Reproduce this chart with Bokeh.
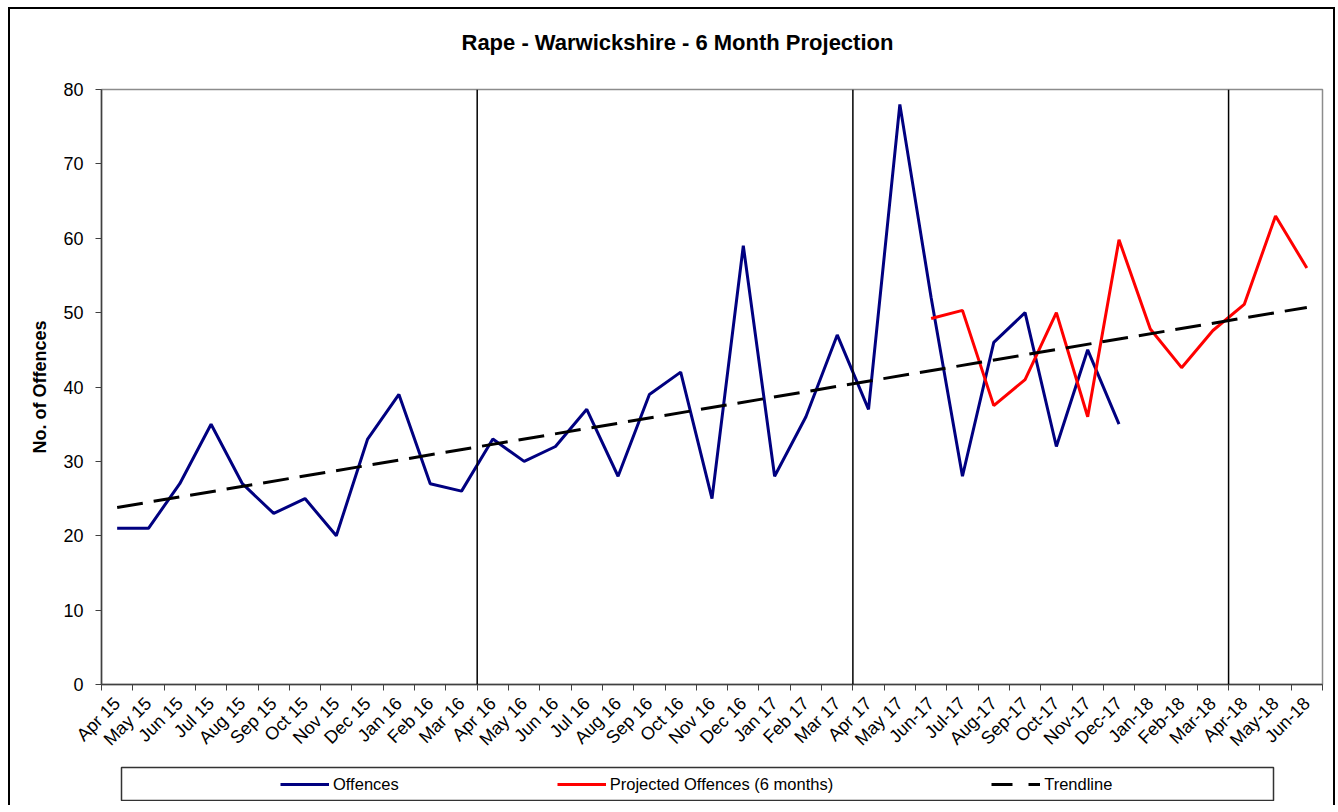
import numpy as np
from bokeh.plotting import figure
from bokeh.layouts import column
from bokeh.models import (Range1d, FixedTicker, SingleIntervalTicker, Legend,
                          LegendItem, Span, Label)
from bokeh.embed import file_html
from bokeh.resources import INLINE

# ---------------- data ----------------
months = ["Apr 15", "May 15", "Jun 15", "Jul 15", "Aug 15", "Sep 15", "Oct 15", "Nov 15",
          "Dec 15", "Jan 16", "Feb 16", "Mar 16", "Apr 16", "May 16", "Jun 16", "Jul 16",
          "Aug 16", "Sep 16", "Oct 16", "Nov 16", "Dec 16", "Jan 17", "Feb 17", "Mar 17",
          "Apr 17", "May 17", "Jun-17", "Jul-17", "Aug-17", "Sep-17", "Oct-17", "Nov-17",
          "Dec-17", "Jan-18", "Feb-18", "Mar-18", "Apr-18", "May-18", "Jun-18"]

offences = [21, 21, 27, 35, 27, 23, 25, 20, 33, 39, 27, 26,
            33, 30, 32, 37, 28, 39, 42, 25, 59, 28, 36, 47,
            37, 78, 52, 28, 46, 50, 32, 45, 35]

projected_months = ["Jun-17", "Jul-17", "Aug-17", "Sep-17", "Oct-17", "Nov-17", "Dec-17",
                    "Jan-18", "Feb-18", "Mar-18", "Apr-18", "May-18", "Jun-18"]
projected = [49.2, 50.3, 37.5, 41.0, 50.0, 36.0, 59.8, 47.8, 42.6, 47.6, 51.1, 63.0, 56.0]

trend_months = ["Apr 15", "Jun-18"]
trend_values = [23.8, 50.7]

year_starts = ["Apr 16", "Apr 17", "Apr-18"]

title_text = "Rape - Warwickshire - 6 Month Projection"
y_title = "No. of Offences"
legend_labels = ["Offences", "Projected Offences (6 months)", "Trendline"]

FONT = "Liberation Sans"
NAVY = "#000080"
RED = "#ff0000"

idx = {m: i for i, m in enumerate(months)}

# ---------------- title strip ----------------
tf = figure(width=1323, height=50, output_backend="svg", toolbar_location=None,
            x_range=Range1d(0, 1221), y_range=Range1d(0, 50),
            min_border_left=91, min_border_right=11, min_border_top=0, min_border_bottom=0)
tf.axis.visible = False
tf.grid.visible = False
tf.outline_line_color = None
tf.background_fill_color = "white"
tf.border_fill_color = "white"
tf.add_layout(Label(x=360, y=17, text=title_text, text_align="left",
                    text_baseline="middle", text_font=FONT, text_font_size="22px",
                    text_font_style="bold", text_color="black"))

# ---------------- main chart ----------------
p = figure(width=1323, height=701, output_backend="svg", toolbar_location=None,
           x_range=Range1d(-0.5, len(months) - 0.5), y_range=Range1d(0, 80),
           min_border_left=91, min_border_right=11, min_border_top=30, min_border_bottom=76)
p.xgrid.visible = False
p.ygrid.visible = False
p.outline_line_color = "#8c8c8c"
p.outline_line_width = 1.5
p.background_fill_color = "white"
p.border_fill_color = "white"

# x axis
xa = p.xaxis[0]
xa.ticker = FixedTicker(ticks=list(range(len(months))),
                        minor_ticks=[i - 0.5 for i in range(len(months) + 1)])
xa.major_label_overrides = {i: m for i, m in enumerate(months)}
xa.major_tick_out = 0
xa.major_tick_in = 0
xa.minor_tick_out = 6
xa.minor_tick_in = 0
xa.minor_tick_line_color = "#404040"
xa.axis_line_color = "#404040"
xa.axis_line_width = 1.5
xa.major_label_orientation = np.pi / 4
xa.major_label_standoff = 10
xa.major_label_text_font = FONT
xa.major_label_text_font_size = "18px"
xa.major_label_text_color = "black"

# y axis
ya = p.yaxis[0]
ya.ticker = SingleIntervalTicker(interval=10, num_minor_ticks=0)
ya.major_tick_out = 6
ya.major_tick_in = 0
ya.minor_tick_out = 0
ya.minor_tick_in = 0
ya.major_tick_line_color = "#404040"
ya.axis_line_color = "#404040"
ya.axis_line_width = 1.5
ya.major_label_standoff = 12
ya.major_label_text_font = FONT
ya.major_label_text_font_size = "18px"
ya.major_label_text_color = "black"
ya.axis_label = y_title
ya.axis_label_text_font = FONT
ya.axis_label_text_font_size = "18px"
ya.axis_label_text_font_style = "bold"
ya.axis_label_text_color = "black"
ya.axis_label_standoff = 10

# financial-year dividers
for m in year_starts:
    p.add_layout(Span(location=idx[m] - 0.5, dimension="height",
                      line_color="black", line_width=1.5))

# series
p.line(x=[idx[m] for m in months[:len(offences)]], y=offences,
       line_color=NAVY, line_width=3)
p.line(x=[idx[m] for m in projected_months], y=projected,
       line_color=RED, line_width=3)
p.line(x=[idx[m] for m in trend_months], y=trend_values,
       line_color="black", line_width=3, line_dash="26 11")

# ---------------- legend strip ----------------
lg = figure(width=1254, height=35, output_backend="svg", toolbar_location=None,
            x_range=Range1d(0, 1), y_range=Range1d(0, 1),
            min_border_left=91, min_border_right=11, min_border_top=1, min_border_bottom=1,
            margin=(6, 0, 4, 20))
lg.axis.visible = False
lg.grid.visible = False
lg.outline_line_color = "#333333"
lg.outline_line_width = 1.5
lg.background_fill_color = "white"
lg.border_fill_color = "white"

# legend keys (kept outside the visible range; only their legend glyphs show)
k_off = lg.line(x=[5, 6], y=[5, 6], line_color=NAVY, line_width=3)
k_proj = lg.line(x=[5, 6], y=[5, 6], line_color=RED, line_width=3)
k_trend = lg.line(x=[5, 6], y=[5, 6], line_color="black", line_width=3, line_dash="21 16")

legend = Legend(items=[LegendItem(label=legend_labels[0], renderers=[k_off]),
                       LegendItem(label=legend_labels[1], renderers=[k_proj]),
                       LegendItem(label=legend_labels[2], renderers=[k_trend])],
                location=(159, 6), orientation="horizontal", spacing=158,
                glyph_width=49, glyph_height=20, label_standoff=4, padding=0, margin=0,
                border_line_alpha=0, background_fill_alpha=0,
                label_text_font=FONT, label_text_font_size="16.5px",
                label_text_color="black")
lg.add_layout(legend)

layout = column(tf, p, lg, margin=(7, 0, 0, 8),
                styles={"border-left": "2px solid black",
                        "border-top": "2px solid black",
                        "border-right": "2px solid black"})

open("out.html", "w").write(file_html(layout, INLINE))
